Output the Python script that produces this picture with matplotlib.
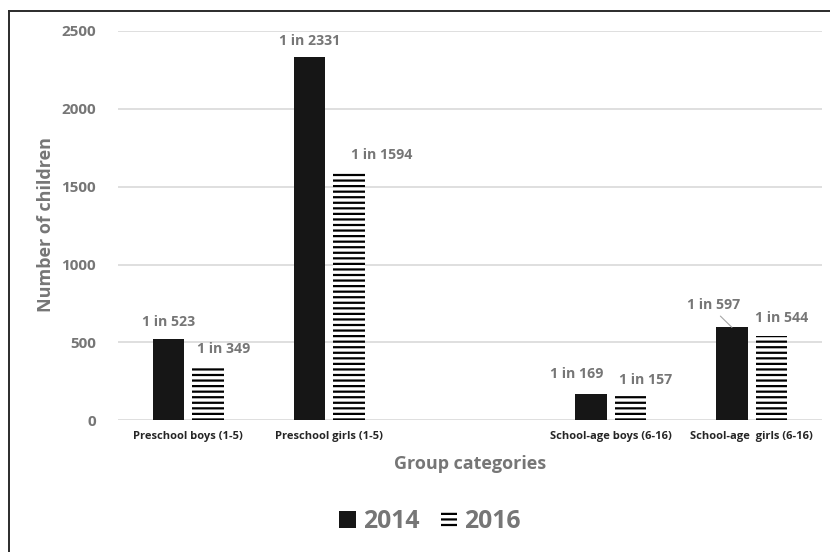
import matplotlib
matplotlib.use("Agg")
import matplotlib.pyplot as plt
from matplotlib.patches import Patch
from matplotlib.lines import Line2D

categories = ["Preschool boys (1-5)", "Preschool girls (1-5)",
              "School-age boys (6-16)", "School-age  girls (6-16)"]
slots = [0, 1, 3, 4]          # an empty category slot sits at index 2
values_2014 = [523, 2331, 169, 597]
values_2016 = [349, 1594, 157, 544]
labels_2014 = ["1 in 523", "1 in 2331", "1 in 169", "1 in 597"]
labels_2016 = ["1 in 349", "1 in 1594", "1 in 157", "1 in 544"]
yticks = [0, 500, 1000, 1500, 2000, 2500]

# label offsets in pixels (dx, dy) from top centre of each bar
off_2014 = [(0, 17), (0, 16), (-14, 20), (-18, 22)]
off_2016 = [(16, 17), (33, 17), (15, 16), (10, 18)]

W, H, DPI = 830, 552, 100
plt.rcParams['font.family'] = ['Open Sans', 'Noto Sans', 'DejaVu Sans']
plt.rcParams['font.weight'] = 'bold'
plt.rcParams['hatch.linewidth'] = 1.6
plt.rcParams['hatch.color'] = 'black'

GRAY = '#767676'
LGRAY = '#d9d9d9'
BLACK = '#161616'

fig = plt.figure(figsize=(W / DPI, H / DPI), dpi=DPI)
fig.patch.set_facecolor('white')

x0, x1 = 118, 822
ytop, ybot = 31, 420.3
ax = fig.add_axes([x0 / W, (H - ybot) / H, (x1 - x0) / W, (ybot - ytop) / H])

bw = 0.224
dx = 0.14
xs14 = [s - dx for s in slots]
xs16 = [s + dx for s in slots]
ax.bar(xs14, values_2014, width=bw, color=BLACK, linewidth=0, zorder=3)
ax.bar(xs16, values_2016, width=bw, facecolor='white', edgecolor='black',
       linewidth=0, hatch='---', zorder=3)

ax.set_xlim(-0.5, 4.5)
ax.set_ylim(0, 2500)
ax.set_yticks(yticks)
ax.set_xticks(slots)
ax.set_xticklabels(categories, fontsize=8, color='#262626', fontweight='bold')
ax.tick_params(axis='y', length=0, pad=16, labelsize=11, labelcolor=GRAY)
ax.tick_params(axis='x', length=0, pad=8)
for lab in ax.get_yticklabels():
    lab.set_fontweight('bold')
ax.grid(axis='y', color=LGRAY, linewidth=1.2, zorder=0)
for s in ax.spines.values():
    s.set_visible(False)

px = 72 / DPI
FS_LAB = 10.2
for x, v, t, (ox, oy) in zip(xs14, values_2014, labels_2014, off_2014):
    if t == "1 in 597":
        ax.annotate(t, xy=(x, v), xytext=(ox * px, oy * px), textcoords='offset points',
                    ha='center', va='center', fontsize=FS_LAB, color=GRAY, fontweight='bold',
                    arrowprops=dict(arrowstyle='-', color='#a6a6a6', lw=0.8,
                                    relpos=(0.55, 0.0), shrinkA=1, shrinkB=0))
    else:
        ax.annotate(t, xy=(x, v), xytext=(ox * px, oy * px), textcoords='offset points',
                    ha='center', va='center', fontsize=FS_LAB, color=GRAY, fontweight='bold')
for x, v, t, (ox, oy) in zip(xs16, values_2016, labels_2016, off_2016):
    ax.annotate(t, xy=(x, v), xytext=(ox * px, oy * px), textcoords='offset points',
                ha='center', va='center', fontsize=FS_LAB, color=GRAY, fontweight='bold')

fig.text(470 / W, 1 - 464 / H, "Group categories", ha='center', va='center',
         fontsize=13, color=GRAY, fontweight='bold')
fig.text(46 / W, 1 - 225 / H, "Number of children", ha='center', va='center',
         rotation=90, fontsize=13, color=GRAY, fontweight='bold')

handles = [Patch(facecolor=BLACK, edgecolor=BLACK, linewidth=0),
           Patch(facecolor='white', edgecolor='black', linewidth=0, hatch='---')]
leg = fig.legend(handles, ["2014", "2016"], loc='center', bbox_to_anchor=(430 / W, 1 - 522 / H),
                 ncol=2, frameon=False, prop={'size': 17.8, 'weight': 'bold'},
                 handlelength=0.68, handleheight=0.68, handletextpad=0.28,
                 columnspacing=0.85, borderpad=0)
for t in leg.get_texts():
    t.set_color(GRAY)

# outer frame (only top and left edges visible in the crop)
fig.add_artist(Line2D([9 / W, 9 / W], [0, 1 - 10.5 / H], color='#2b2b2b', lw=1.4,
                      transform=fig.transFigure))
fig.add_artist(Line2D([9 / W, 1], [1 - 10.5 / H, 1 - 10.5 / H], color='#2b2b2b', lw=1.4,
                      transform=fig.transFigure))

fig.savefig("out.png", dpi=DPI, facecolor='white')
